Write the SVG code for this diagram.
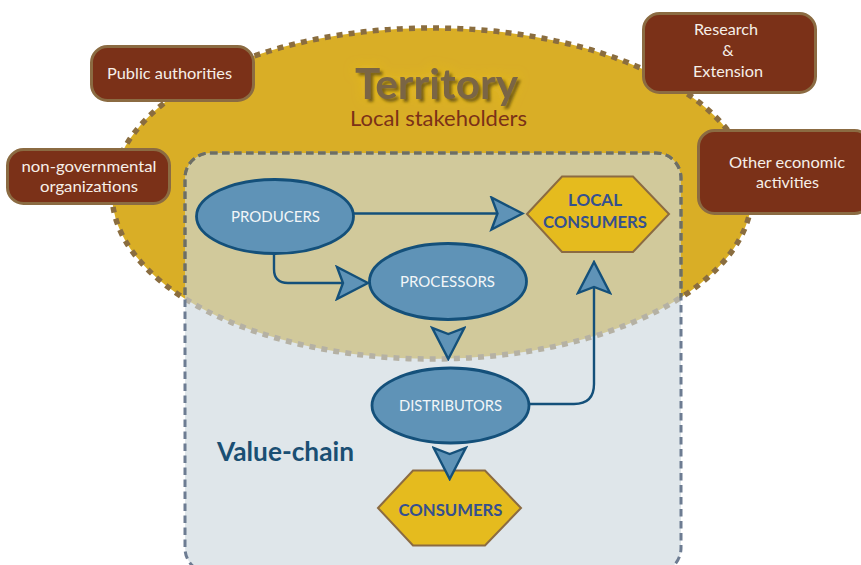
<svg xmlns="http://www.w3.org/2000/svg" width="861" height="565" viewBox="0 0 861 565">
<style>
text{font-family:Lato,"Open Sans","Liberation Sans",sans-serif;text-anchor:middle}
.box{fill:#7b3118;stroke:#8b6b42;stroke-width:3}
.box-t{fill:#f6efe8;font-size:16px}
.oval{fill:#5f93b7;stroke:#14507a;stroke-width:2.800}
.oval-t{fill:#f2f6f8;font-size:15.500px}
.hex{fill:#e5bb1e;stroke:#8b6b42;stroke-width:2}
.hex-t{fill:#35508f;font-size:17.500px;font-weight:700}
.conn{fill:none;stroke:#14507a;stroke-width:2.400;marker-end:url(#barb)}
</style>
<defs>
<marker id="barb" viewBox="-34 -18 36 36" refX="-25" refY="0" markerWidth="36" markerHeight="36" markerUnits="userSpaceOnUse" orient="auto">
<path d="M0 0L-31-16L-25 0L-31 16Z" fill="#5f93b7" stroke="#14507a" stroke-width="2.400" stroke-linejoin="miter"/>
</marker>
<clipPath id="inTerritory"><ellipse cx="432" cy="193.500" rx="320" ry="165.500"/></clipPath>
<filter id="shadow" x="-15%" y="-30%" width="130%" height="160%">
<feGaussianBlur in="SourceAlpha" stdDeviation="6" result="a"/>
<feFlood flood-color="#f0c820" flood-opacity=".6"/><feComposite in2="a" operator="in" result="halo"/>
<feGaussianBlur in="SourceAlpha" stdDeviation="1.800" result="b"/>
<feOffset in="b" dx="2.500" dy="2.500" result="c"/>
<feFlood flood-color="#4a3a10" flood-opacity=".75"/><feComposite in2="c" operator="in" result="sh"/>
<feMerge><feMergeNode in="halo"/><feMergeNode in="sh"/><feMergeNode in="SourceGraphic"/></feMerge>
</filter>
</defs>
<g id="territory">
<ellipse cx="432" cy="193.500" rx="320" ry="165.500" fill="#d9ae26" stroke="#8a6d3f" stroke-width="5.500" stroke-dasharray="6 6.100"/>
<text x="436.500" y="98.500" font-size="42" font-weight="700" fill="#7a6545" textLength="163" lengthAdjust="spacingAndGlyphs" filter="url(#shadow)">Territory</text>
<text x="438.500" y="125.500" font-size="21" fill="#7b3118" textLength="177" lengthAdjust="spacingAndGlyphs">Local stakeholders</text>
</g>
<g id="value-chain">
<rect x="185" y="153" width="496" height="420" rx="25" fill="#cdd8de" fill-opacity=".64" stroke="#6d7c92" stroke-width="3" stroke-dasharray="7.500 4.500"/>
<rect x="185" y="153" width="496" height="420" rx="25" fill="none" stroke="#6e6e62" stroke-width="3" stroke-dasharray="7.500 4.500" clip-path="url(#inTerritory)"/>
<text x="285.500" y="461" font-size="26" font-weight="700" fill="#1a4f73" textLength="137" lengthAdjust="spacingAndGlyphs">Value-chain</text>
</g>
<g id="public-authorities">
<rect class="box" x="91.500" y="46.500" width="162" height="54" rx="16"/>
<text class="box-t" x="169.500" y="79" textLength="125" lengthAdjust="spacingAndGlyphs">Public authorities</text>
</g>
<g id="non-governmental-organizations">
<rect class="box" x="7.500" y="149.500" width="162" height="54" rx="16"/>
<text class="box-t" x="89" y="172" textLength="135" lengthAdjust="spacingAndGlyphs">non-governmental</text>
<text class="box-t" x="89" y="192" textLength="98" lengthAdjust="spacingAndGlyphs">organizations</text>
</g>
<g id="research-extension">
<rect class="box" x="643.500" y="13.500" width="172" height="79" rx="16"/>
<text class="box-t" x="726" y="35" textLength="64" lengthAdjust="spacingAndGlyphs">Research</text>
<text class="box-t" x="728" y="56">&amp;</text>
<text class="box-t" x="728" y="77" textLength="70" lengthAdjust="spacingAndGlyphs">Extension</text>
</g>
<g id="other-economic-activities">
<rect class="box" x="698.500" y="130.500" width="172" height="83" rx="16"/>
<text class="box-t" x="787" y="168" textLength="116" lengthAdjust="spacingAndGlyphs">Other economic</text>
<text class="box-t" x="787.500" y="188" textLength="63" lengthAdjust="spacingAndGlyphs">activities</text>
</g>
<g id="producers">
<ellipse class="oval" cx="275" cy="216.500" rx="78.500" ry="37"/>
<text class="oval-t" x="275.500" y="222" textLength="89" lengthAdjust="spacingAndGlyphs">PRODUCERS</text>
</g>
<g id="processors">
<ellipse class="oval" cx="448" cy="281.500" rx="78.500" ry="38"/>
<text class="oval-t" x="447.500" y="287" textLength="95" lengthAdjust="spacingAndGlyphs">PROCESSORS</text>
</g>
<g id="distributors">
<ellipse class="oval" cx="450.500" cy="405.500" rx="78.500" ry="37.500"/>
<text class="oval-t" x="450.500" y="411" textLength="103" lengthAdjust="spacingAndGlyphs">DISTRIBUTORS</text>
</g>
<g id="local-consumers">
<polygon class="hex" points="527,214 562,176.500 633,176.500 669,214 633,252 562,252"/>
<text class="hex-t" x="595" y="206" textLength="54" lengthAdjust="spacingAndGlyphs">LOCAL</text>
<text class="hex-t" x="595" y="228" textLength="104" lengthAdjust="spacingAndGlyphs">CONSUMERS</text>
</g>
<g id="consumers">
<polygon class="hex" points="378,508 413,470.500 485,470.500 521,508 485,545.500 413,545.500"/>
<text class="hex-t" x="450.500" y="516" textLength="104" lengthAdjust="spacingAndGlyphs">CONSUMERS</text>
</g>
<g id="connectors">
<path class="conn" d="M354 213.500H497.500"/>
<path class="conn" d="M274 254V269Q274 283 288 283H343"/>
<path class="conn" d="M448.300 333.800V334"/>
<path class="conn" d="M449.700 453.800V454"/>
<path class="conn" d="M529 404H574Q594 404 594 384V287"/>
</g>
</svg>
